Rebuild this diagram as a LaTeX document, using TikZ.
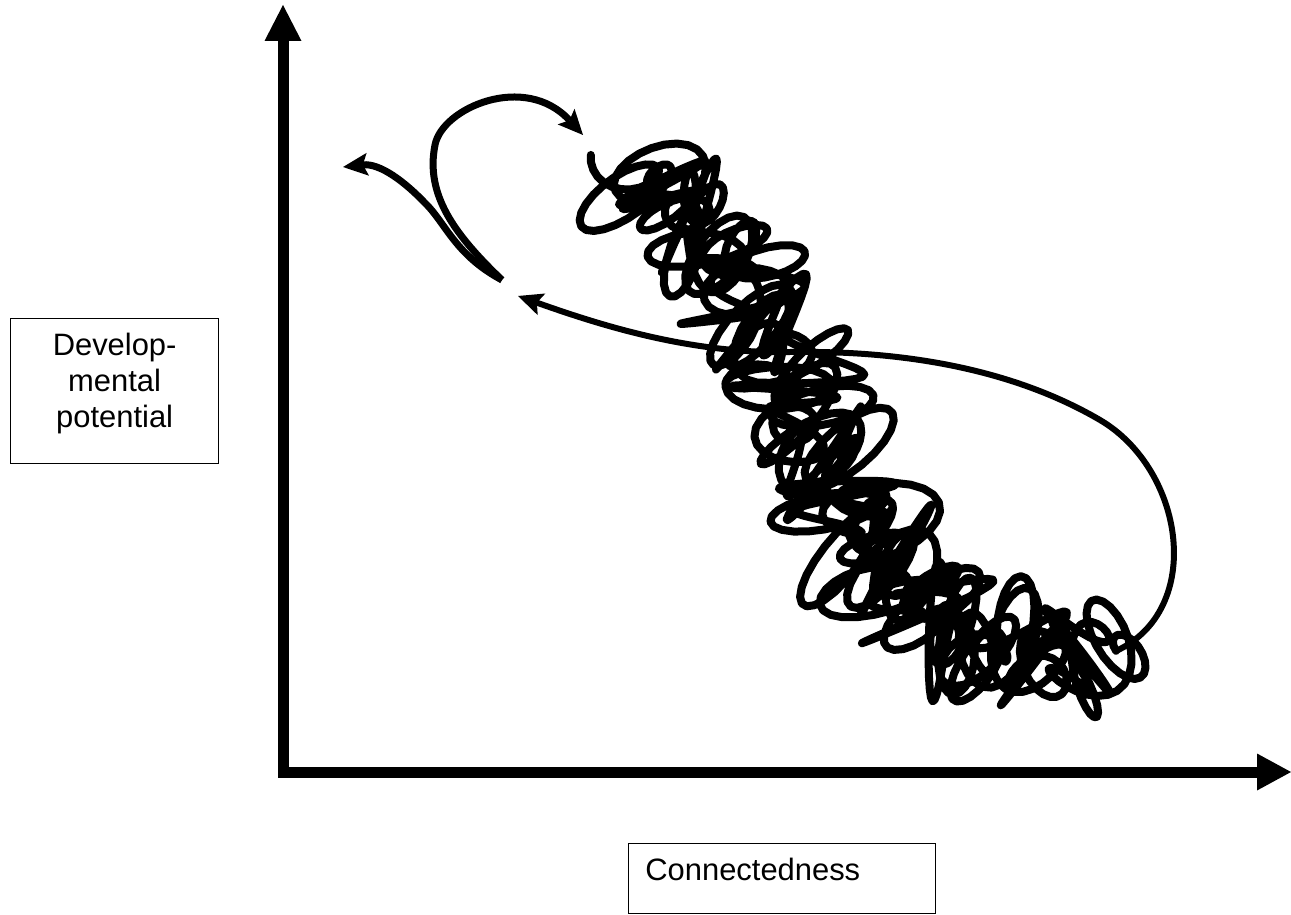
\documentclass[tikz,border=0pt]{standalone}
\usepackage{fontspec}
\setmainfont{Liberation Sans}
\usetikzlibrary{arrows.meta,positioning,calc}
\tikzset{
  axisarr/.style={{Triangle[length=7.2mm,width=7.4mm,line width=0pt]}-{Triangle[length=6.8mm,width=7.4mm,line width=0pt]}, line width=2.2mm},
  loopln/.style={-{Stealth[length=5mm,width=4.6mm,inset=1mm,line width=0pt]}, line width=1.4mm},
  returnln/.style={-{Stealth[length=5mm,width=4.6mm,inset=1mm,line width=0pt]}, line width=1.2mm},
  scribln/.style={line width=1.6mm, line cap=round, line join=round},
  framebox/.style={draw, line width=0.75pt, inner sep=0pt},
  labeltxt/.style={inner sep=0pt, font=\fontsize{17.6}{20.3}\selectfont},
  declare function={
    bx(\t)=(1-\t)^3*630+3*(1-\t)^2*\t*845+3*(1-\t)*\t^2*800+\t^3*1120;
    by(\t)=(1-\t)^3*175+3*(1-\t)^2*\t*285+3*(1-\t)*\t^2*720+\t^3*650;
    tx(\t)=3*(1-\t)^2*2.15-6*(1-\t)*\t*0.45+3*\t^2*3.20;
    ty(\t)=3*(1-\t)^2*1.10+6*(1-\t)*\t*4.35-3*\t^2*0.70;
    cx(\t)=tx(\t)/veclen(tx(\t),ty(\t));
    cy(\t)=ty(\t)/veclen(tx(\t),ty(\t));
    ev(\t)=0.78+0.9*\t*(1-\t);
    nu(\s)=-24*cos(2*mod(\s,360))+12*sin(1.1*mod(\s,3600))-20*cos(0.4125*\s);
    nv(\s)=ev(\s/14400)*(36*sin(2.15*mod(\s,7200))+28*cos(1.25*mod(\s,1440)+90)+18*sin(0.6*\s)+10*sin(0.3875*\s));
    sx(\s)=bx(\s/14400)+nu(\s)*cx(\s/14400)-nv(\s)*cy(\s/14400);
    sy(\s)=by(\s/14400)+nu(\s)*cy(\s/14400)+nv(\s)*cx(\s/14400);
  },
}

\begin{document}
\begin{tikzpicture}[x=0.02cm, y=-0.02cm]
  \useasboundingbox (0,0) rectangle (1291,915);
  \coordinate (origin) at (283,772);
  \coordinate (ytop) at (283,5);
  \coordinate (xend) at (1291,772);
  \draw[axisarr] (ytop) -- (origin) -- (xend);

  \node[framebox, minimum width=4.16cm, minimum height=2.9cm, anchor=north west] (devbox) at (10,318) {};
  \node[labeltxt, align=center, below=0.3cm of devbox.north] (devtxt) {Develop-\\mental\\potential};
  \node[framebox, minimum width=6.14cm, minimum height=1.4cm, anchor=north west] (conbox) at (628,843) {};
  \node[labeltxt, anchor=base west] (contxt) at ([xshift=0.34cm, yshift=-0.76cm]conbox.north west) {Connectedness};

  \coordinate (fork) at (502,280);
  \coordinate (lefttip) at (343,167);
  \coordinate (looptip) at (583,135);
  \coordinate (returntip) at (518,296);
  \coordinate (scribend) at (1116,651);

  \draw[scribln] plot[domain=0:14400, samples=1700] ({sx(\x)}, {sy(\x)});

  \draw[loopln] (fork) .. controls (455,255) and (445,222) .. (425,203)
    .. controls (405,182) and (380,163) .. (lefttip);
  \draw[loopln] (fork) .. controls (455,235) and (425,195) .. (435,145)
    .. controls (442,108) and (525,72) .. (looptip);
  \draw[returnln] (scribend) .. controls (1205,610) and (1185,470) .. (1100,420)
    .. controls (1023,375) and (920,350) .. (790,352)
    .. controls (690,354) and (600,325) .. (returntip);
\end{tikzpicture}
\end{document}
